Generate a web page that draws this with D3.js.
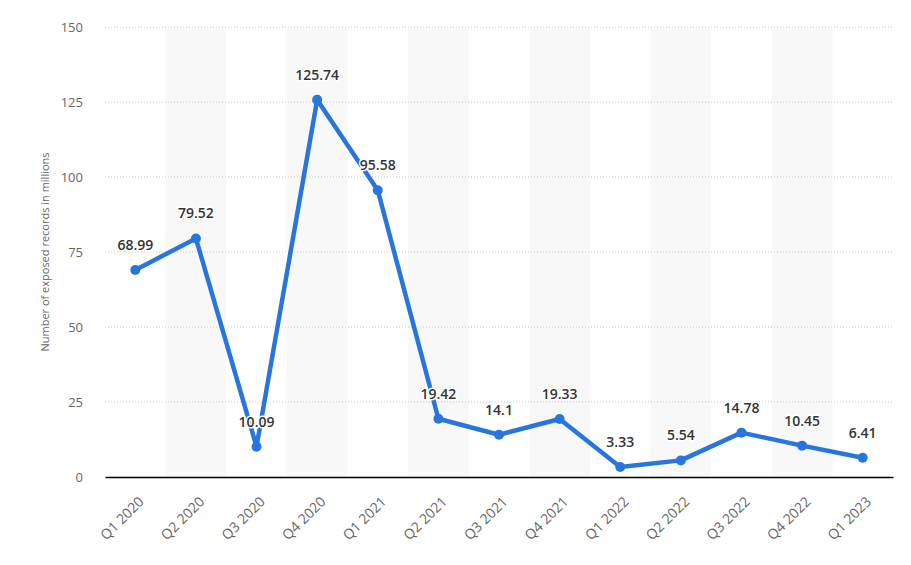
<!DOCTYPE html>
<html>
<head>
<meta charset="utf-8">
<script src="https://cdn.jsdelivr.net/npm/d3@7"></script>
<style>
  body { margin: 0; background: #fff; }
  svg { display: block; font-family: "Open Sans", sans-serif; }
</style>
</head>
<body>
<svg id="chart" width="911" height="565"></svg>
<script>
"use strict";

const quarters = ["Q1 2020", "Q2 2020", "Q3 2020", "Q4 2020", "Q1 2021", "Q2 2021", "Q3 2021",
    "Q4 2021", "Q1 2022", "Q2 2022", "Q3 2022", "Q4 2022", "Q1 2023"];
const records = [68.99, 79.52, 10.09, 125.74, 95.58, 19.42, 14.1, 19.33, 3.33, 5.54, 14.78, 10.45, 6.41];
const yTicks = [0, 25, 50, 75, 100, 125, 150];

const margin = {top: 27, right: 18, bottom: 88, left: 105};
const svg = d3.select("#chart");
const width = 911 - margin.left - margin.right;
const height = 565 - margin.top - margin.bottom;

const g = svg.append("g").attr("transform", `translate(${margin.left},${margin.top})`);

const x = d3.scaleBand().domain(quarters).range([0, width]);
const y = d3.scaleLinear().domain([0, 150]).range([height, 0]);

// alternating column shading
g.selectAll("rect.band")
    .data(quarters.filter((d, i) => i % 2 === 1))
    .enter().append("rect")
        .attr("class", "band")
        .attr("x", d => x(d))
        .attr("y", 0)
        .attr("width", x.bandwidth())
        .attr("height", height)
        .style("fill", "#f8f8f8");

// gridlines
g.selectAll("line.grid")
    .data(yTicks.filter(d => d > 0))
    .enter().append("line")
        .attr("class", "grid")
        .attr("x1", 0).attr("x2", width)
        .attr("y1", d => y(d)).attr("y2", d => y(d))
        .style("stroke", "#c8c8c8")
        .style("stroke-dasharray", "1,2");

// y axis
const yAxis = g.append("g")
    .call(d3.axisLeft(y).tickValues(yTicks).tickSize(0).tickPadding(22));
yAxis.select(".domain").remove();
yAxis.selectAll("text")
    .style("font-size", "13px")
    .style("fill", "#666")
    .style("font-family", "Open Sans, sans-serif");

// x axis
const xAxis = g.append("g")
    .attr("transform", `translate(0,${height})`)
    .call(d3.axisBottom(x).tickSize(0).tickPadding(0));
xAxis.select(".domain").style("stroke", "#000").style("stroke-width", 1.5);
xAxis.selectAll("text")
    .attr("transform", "translate(6,22) rotate(-45)")
    .style("text-anchor", "end")
    .attr("dy", "0.35em")
    .style("font-size", "14px")
    .style("fill", "#666")
    .style("font-family", "Open Sans, sans-serif");

// axis title
svg.append("text")
    .attr("transform", `translate(49,${margin.top + height / 2}) rotate(-90)`)
    .attr("text-anchor", "middle")
    .style("font-size", "11px")
    .style("fill", "#666")
    .text("Number of exposed records in millions");

const cx = d => x(d) + x.bandwidth() / 2;

const line = d3.line()
    .x((d, i) => cx(quarters[i]))
    .y(d => y(d));

g.append("path")
    .datum(records)
    .attr("d", line)
    .style("fill", "none")
    .style("stroke", "#2876dd")
    .style("stroke-width", 4.5)
    .style("stroke-linejoin", "round");

g.selectAll("circle.pt")
    .data(records)
    .enter().append("circle")
        .attr("class", "pt")
        .attr("cx", (d, i) => cx(quarters[i]))
        .attr("cy", d => y(d))
        .attr("r", 5)
        .style("fill", "#2876dd");

// value labels with white halo
const labels = g.selectAll("g.lbl")
    .data(records)
    .enter().append("g")
        .attr("class", "lbl")
        .attr("transform", (d, i) => `translate(${cx(quarters[i])},${y(d) - 20})`);

labels.append("text")
    .attr("text-anchor", "middle")
    .style("font-size", "14px")
    .style("font-weight", "600")
    .style("stroke", "#fff")
    .style("stroke-width", 3)
    .style("stroke-linejoin", "round")
    .style("fill", "#fff")
    .text(d => d);

labels.append("text")
    .attr("text-anchor", "middle")
    .style("font-size", "14px")
    .style("font-weight", "600")
    .style("fill", "#333")
    .text(d => d);
</script>
</body>
</html>
